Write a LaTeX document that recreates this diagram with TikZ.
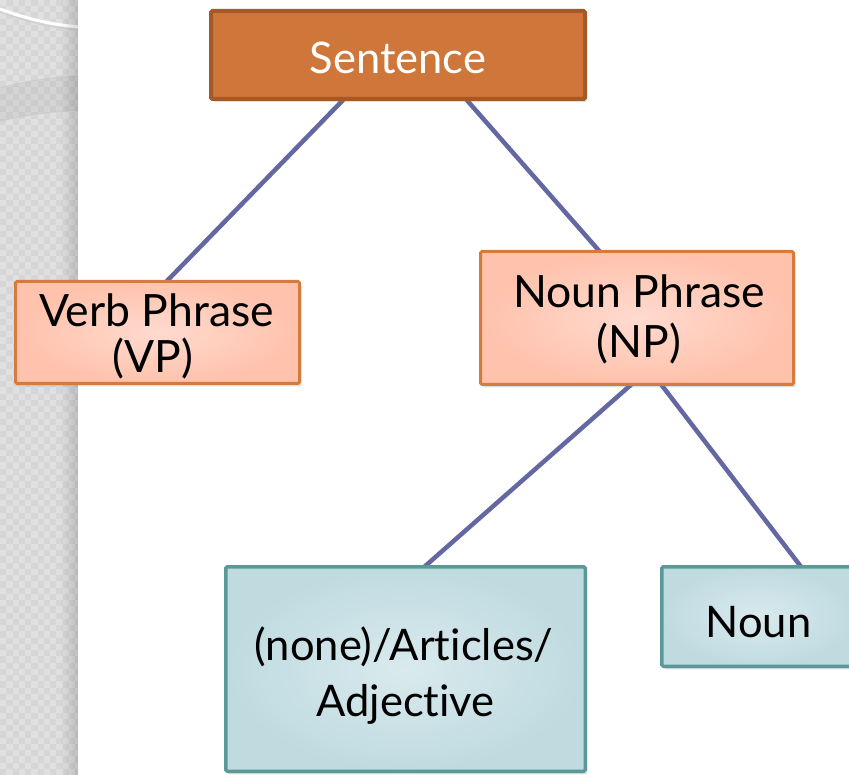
\documentclass[tikz,border=0pt]{standalone}
\usepackage{fontspec}
\setmainfont{Lato}[Ligatures={NoCommon,NoContextual}]
\usetikzlibrary{shadows,fadings,calc,backgrounds}
\definecolor{stripbase}{HTML}{D6D6D6}
\definecolor{stripsq}{HTML}{E0E0E0}
\definecolor{sentfill}{HTML}{CF763A}
\definecolor{sentdraw}{HTML}{A45A28}
\definecolor{pinkin}{HTML}{FFDACF}
\definecolor{pinkout}{HTML}{FFC2AC}
\definecolor{pinkdraw}{HTML}{D67B3F}
\definecolor{bluein}{HTML}{D9EAEE}
\definecolor{blueout}{HTML}{BFDBE0}
\definecolor{bluedraw}{HTML}{5B9898}
\definecolor{linkcol}{HTML}{6567A2}
\tikzset{
  box/.style={rectangle, rounded corners=1.5pt, inner sep=0pt,
    drop shadow={opacity=0.25, shadow xshift=2pt, shadow yshift=-3pt}},
  sentbox/.style={box, fill=sentfill, draw=sentdraw, line width=4pt},
  pinkbox/.style={box, inner color=pinkin, outer color=pinkout, draw=pinkdraw, line width=3pt},
  bluebox/.style={box, inner color=bluein, outer color=blueout, draw=bluedraw, line width=3.5pt},
  txtmid/.style={inner sep=0pt, anchor=base, font=\fontsize{44.5}{48}\selectfont},
  txttop/.style={inner sep=0pt, anchor=base, text=white, font=\fontsize{43.5}{48}\selectfont},
  txtlow/.style={inner sep=0pt, anchor=base, font=\fontsize{43.5}{48}\selectfont},
  link/.style={draw=linkcol, line width=4.5pt}
}
\begin{document}
\begin{tikzpicture}[x=1pt,y=-1pt]
\useasboundingbox (0,0) rectangle (849,775);
% left decorative strip
\begin{scope}
  \clip (0,0) rectangle (78,775);
  \fill[stripbase] (0,0) rectangle (78,775);
  \foreach \i in {0,...,6} {
    \foreach \j in {0,...,62} {
      \fill[stripsq] (\i*12.5,\j*12.5) rectangle ++(6.25,6.25);
      \fill[stripsq] (\i*12.5+6.25,\j*12.5+6.25) rectangle ++(6.25,6.25);
    }
  }
  \fill[black, opacity=0.05] (0,88) .. controls (30,80) and (55,77) .. (80,76)
     -- (80,110) .. controls (55,111) and (30,114) .. (0,121) -- cycle;
  \draw[black!20, line width=0.8pt] (0,88) .. controls (30,80) and (55,77) .. (80,76);
  \draw[black!20, line width=1.2pt] (0,121) .. controls (30,114) and (55,111) .. (80,110);
  \draw[black!18, line width=1.5pt] (0,12) .. controls (30,23) and (55,28) .. (80,30);
  \draw[white, line width=3pt] (0,9) .. controls (30,20) and (55,25) .. (80,27);
  \fill[black, opacity=0.14, path fading=west] (60,0) rectangle (78,775);
\end{scope}
% boxes
\node[sentbox, minimum width=374pt, minimum height=88pt] (S) at (398,55) {};
\node[pinkbox, minimum width=284pt, minimum height=102pt] (VP) at (157.5,332.5) {};
\node[pinkbox, minimum width=313pt, minimum height=133pt] (NP) at (637,318) {};
\node[bluebox, minimum width=359.5pt, minimum height=204.5pt] (Art) at (405.5,669) {};
\node[bluebox, minimum width=193.5pt, minimum height=99.5pt] (N) at (758.5,616.5) {};
% texts
\node[txttop] (St) at (398,74) {Sentence};
\node[txtmid] (VPa) at (156.5,327) {Verb Phrase};
\node[txtmid] (VPb) at (153,373) {(VP)};
\node[txtmid] (NPa) at (639,308) {Noun Phrase};
\node[txtmid] (NPb) at (639,358) {(NP)};
\node[txtlow] (Arta) at (404,660) {(none)/Articles/};
\node[txtlow] (Artb) at (405.5,716) {Adjective};
\node[txtlow] (Nt) at (758.5,637) {Noun};
% connectors
\begin{scope}[on background layer]
  \draw[link] ($(S.south west)+(136,-3)$) -- ($(VP.north west)+(151,3)$);
  \draw[link] ($(S.south west)+(256,-3)$) -- ($(NP.north west)+(122,3)$);
  \draw[link] ($(NP.south west)+(154,-3)$) -- ($(Art.north west)+(199,3)$);
  \draw[link] ($(NP.south west)+(181,-3)$) -- ($(N.north west)+(142,3)$);
\end{scope}
\end{tikzpicture}
\end{document}
